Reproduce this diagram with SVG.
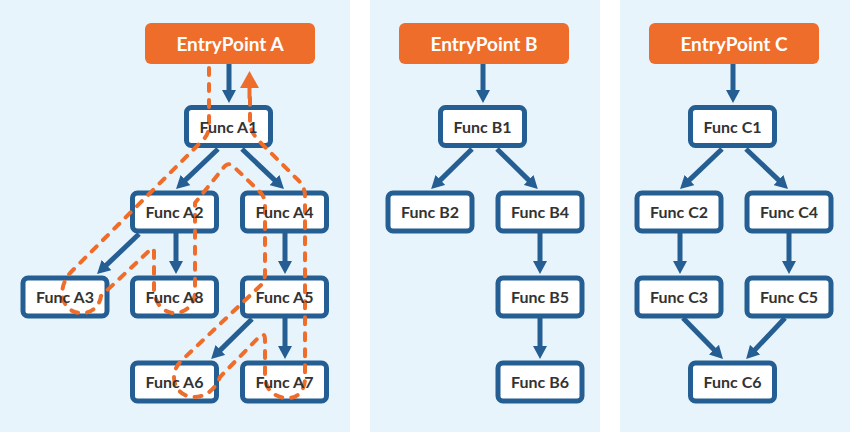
<svg xmlns="http://www.w3.org/2000/svg" width="850" height="432" viewBox="0 0 850 432">
<defs>
<style>
.panel{fill:#e8f4fb}
.entry rect{fill:#ee6d2b}
.entry text{fill:#fff;font-family:Lato,"Liberation Sans",sans-serif;font-weight:700;font-size:19px;text-anchor:middle}
.node rect{fill:#fff;stroke:#255e92;stroke-width:5}
.label{fill:#333;font-family:Lato,"Liberation Sans",sans-serif;font-weight:700;font-size:16px;text-anchor:middle}
.edge{stroke:#255e92;stroke-width:5;fill:none;marker-end:url(#ah)}
.trav{stroke:#ee6d2b;stroke-width:4;fill:none;stroke-dasharray:7 9;stroke-linecap:round;stroke-linejoin:round}
</style>
<marker id="ah" markerUnits="userSpaceOnUse" viewBox="0 0 13 14" markerWidth="13" markerHeight="14" refX="2" refY="7" orient="auto">
<path d="M0,0 L13,7 L0,14 z" fill="#255e92"/>
</marker>
</defs>
<rect class="panel" x="0" y="0" width="350" height="432"/>
<rect class="panel" x="370" y="0" width="230" height="432"/>
<rect class="panel" x="620" y="0" width="230" height="432"/>

<g id="connectors">
<line class="edge" x1="229" y1="64" x2="229" y2="92"/>
<line class="edge" x1="218" y1="149" x2="184" y2="181.4"/>
<line class="edge" x1="242" y1="149" x2="276" y2="181.4"/>
<line class="edge" x1="139" y1="234" x2="105" y2="266.4"/>
<line class="edge" x1="176" y1="233" x2="176" y2="263"/>
<line class="edge" x1="285" y1="233" x2="285" y2="263"/>
<line class="edge" x1="252" y1="319" x2="219" y2="351.4"/>
<line class="edge" x1="285" y1="318" x2="285" y2="348"/>

<line class="edge" x1="483" y1="64" x2="483" y2="92"/>
<line class="edge" x1="472" y1="149" x2="439" y2="181.4"/>
<line class="edge" x1="497" y1="149" x2="530" y2="181.4"/>
<line class="edge" x1="540" y1="233" x2="540" y2="263"/>
<line class="edge" x1="540" y1="318" x2="540" y2="348"/>

<line class="edge" x1="733" y1="64" x2="733" y2="92"/>
<line class="edge" x1="722" y1="149" x2="688" y2="181.4"/>
<line class="edge" x1="746" y1="149" x2="780" y2="181.4"/>
<line class="edge" x1="680" y1="233" x2="680" y2="263"/>
<line class="edge" x1="789" y1="233" x2="789" y2="263"/>
<line class="edge" x1="683" y1="318" x2="715.3" y2="351.1"/>
<line class="edge" x1="785" y1="318" x2="753.7" y2="351.1"/>
</g>

<g id="entryA" class="entry"><rect x="145" y="23" width="170" height="41" rx="6"/><text x="230" y="50.5">EntryPoint A</text></g>
<g id="entryB" class="entry"><rect x="399" y="23" width="170" height="41" rx="6"/><text x="484" y="50.5">EntryPoint B</text></g>
<g id="entryC" class="entry"><rect x="649" y="23" width="170" height="41" rx="6"/><text x="734" y="50.5">EntryPoint C</text></g>

<g id="A1" class="node"><rect x="186.5" y="107.5" width="84" height="38" rx="5"/></g>
<g id="A2" class="node"><rect x="132.5" y="193" width="84" height="38" rx="5"/></g>
<g id="A4" class="node"><rect x="242.5" y="193" width="84" height="38" rx="5"/></g>
<g id="A3" class="node"><rect x="23" y="278" width="84" height="38" rx="5"/></g>
<g id="A8" class="node"><rect x="132.5" y="278" width="84" height="38" rx="5"/></g>
<g id="A5" class="node"><rect x="242.5" y="278" width="84" height="38" rx="5"/></g>
<g id="A6" class="node"><rect x="132.5" y="363" width="84" height="38" rx="5"/></g>
<g id="A7" class="node"><rect x="242.5" y="363" width="84" height="38" rx="5"/></g>

<g id="B1" class="node"><rect x="440.5" y="107.5" width="84" height="38" rx="5"/><text class="label" x="482.5" y="132.5">Func B1</text></g>
<g id="B2" class="node"><rect x="388" y="193" width="84" height="38" rx="5"/><text class="label" x="430" y="218">Func B2</text></g>
<g id="B4" class="node"><rect x="498" y="193" width="84" height="38" rx="5"/><text class="label" x="540" y="218">Func B4</text></g>
<g id="B5" class="node"><rect x="498" y="278" width="84" height="38" rx="5"/><text class="label" x="540" y="303">Func B5</text></g>
<g id="B6" class="node"><rect x="498" y="363" width="84" height="38" rx="5"/><text class="label" x="540" y="388">Func B6</text></g>

<g id="C1" class="node"><rect x="690.5" y="107.5" width="84" height="38" rx="5"/><text class="label" x="732.5" y="132.5">Func C1</text></g>
<g id="C2" class="node"><rect x="637" y="193" width="84" height="38" rx="5"/><text class="label" x="679" y="218">Func C2</text></g>
<g id="C4" class="node"><rect x="747" y="193" width="84" height="38" rx="5"/><text class="label" x="789" y="218">Func C4</text></g>
<g id="C3" class="node"><rect x="637" y="278" width="84" height="38" rx="5"/><text class="label" x="679" y="303">Func C3</text></g>
<g id="C5" class="node"><rect x="747" y="278" width="84" height="38" rx="5"/><text class="label" x="789" y="303">Func C5</text></g>
<g id="C6" class="node"><rect x="690.5" y="363" width="84" height="38" rx="5"/><text class="label" x="732.5" y="388">Func C6</text></g>

<g id="traversal">
<path class="trav" d="M209 68 V126 Q209 134 203 140 L72 271 C55 288 62 312 80 313 C92 314 100 305 101 296 L150 250 Q154 246 154 252 V292 C156 306 166 314 176 313 C188 312 195 302 195 292 V203 L224 167 Q228 162 233 166 L260 192 Q265 197 265 205 V274 Q265 282 259 287 L180 362 C168 376 175 395 192 397 C206 398 216 388 220 377 L259 337 Q265 331 265 340 V378 C266 392 278 399 290 398 C300 397 305 388 305 378 V196 Q305 186 296 178 L260 142 Q250 132 250 122 V90"/>
<path d="M249.5 87 V98" stroke="#ee6d2b" stroke-width="4" stroke-linecap="round" fill="none"/>
<path d="M240 88 L259 88 L249.5 71 z" fill="#ee6d2b"/>
</g>

<g id="A-labels">
<text class="label" x="228.5" y="132.5">Func A1</text>
<text class="label" x="174.5" y="218">Func A2</text>
<text class="label" x="284.5" y="218">Func A4</text>
<text class="label" x="65" y="303">Func A3</text>
<text class="label" x="174.5" y="303">Func A8</text>
<text class="label" x="284.5" y="303">Func A5</text>
<text class="label" x="174.5" y="388">Func A6</text>
<text class="label" x="284.5" y="388">Func A7</text>
</g>
</svg>
